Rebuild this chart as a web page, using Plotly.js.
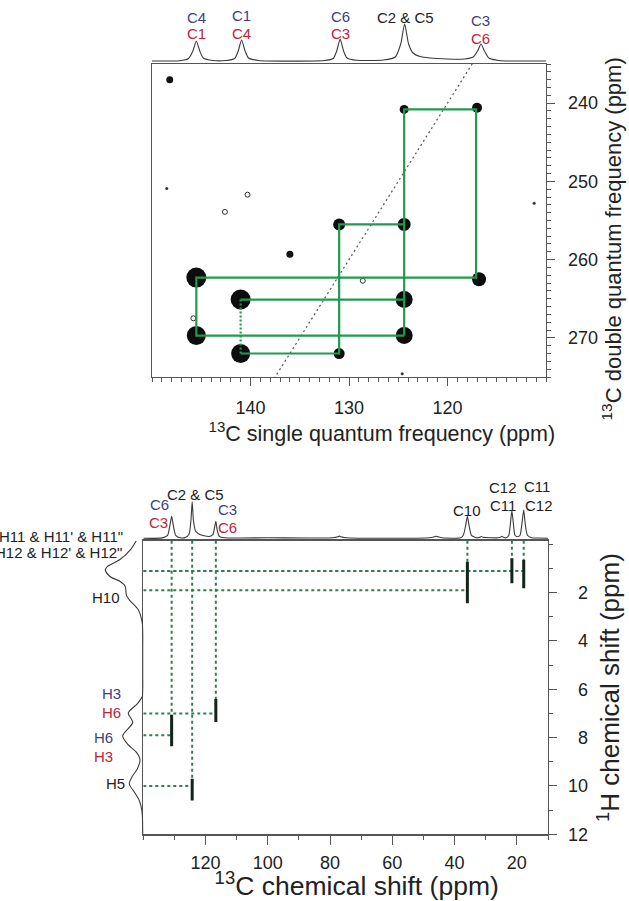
<!DOCTYPE html>
<html><head><meta charset="utf-8">
<script src="https://cdn.plot.ly/plotly-3.0.1.min.js"></script>
<style>html,body{margin:0;padding:0;background:#fff}#chart{width:629px;height:901px}</style>
</head><body><div id="chart"></div>
<script>
// ================= DATA =================
// --- Top panel: 13C double-quantum / single-quantum correlation ---
const sqRange = [150, 110];
const dqRange = [275, 235];
const sqTicks = [140, 130, 120];
const dqTicks = [240, 250, 260, 270];

// 1D 13C projection above the top panel (ppm, relative height)
const projPpm = [150, 147.2, 146.3, 145.85, 145.5, 145.15, 144.8, 143.8,
                 142.5, 141.6, 141.25, 140.9, 140.55, 140.2, 139.2,
                 132.5, 131.6, 131.25, 130.9, 130.55, 130.2, 129.2,
                 126.5, 125.3, 124.75, 124.35, 123.95, 123.5, 122.8, 121.8, 120,
                 118.3, 117.4, 116.95, 116.6, 116.25, 115.8, 114.8, 110];
const projInt = [0, 0.3, 2.5, 10, 20, 10, 3, 0.5,
                 0.5, 2.5, 10, 21, 10, 3, 0.5,
                 0.5, 2.5, 10, 22, 10, 3, 0.7,
                 1, 4, 17, 37, 17, 8, 4.5, 3, 2,
                 2, 4, 10, 17, 10, 3, 0.5, 0];

// DQ/SQ cross peaks
const peakSQ = [145.5, 145.5, 141.0, 141.0, 131.0, 124.4, 124.4, 124.4, 124.4, 117.0, 116.8, 131.0];
const peakDQ = [262.3, 269.7, 265.1, 272.0, 255.5, 255.5, 265.1, 269.7, 240.8, 240.6, 262.5, 272.0];
// weak signals
const weakSQ = [148.2, 136.0];
const weakDQ = [237.0, 259.3];
const ringSQ = [140.3, 142.6, 128.6, 145.8];
const ringDQ = [251.7, 253.9, 262.7, 267.5];
const dotSQ = [148.5, 111.2, 124.6];
const dotDQ = [250.9, 252.8, 274.6];
// connectivity walk (solid) and dotted link
const walkSQ = [124.4, 124.4, 117.1, 117.1, 145.5, 145.5, 124.4, null, 141.0, 124.4, null, 141.0, 131.0, 131.0, 124.4];
const walkDQ = [269.7, 240.8, 240.8, 262.3, 262.3, 269.7, 269.7, null, 265.1, 265.1, null, 272.0, 272.0, 255.5, 255.5];
const linkSQ = [141.0, 141.0];
const linkDQ = [265.1, 272.0];
// diagonal DQ = 2 x SQ
const diagSQ = [137.6, 117.4];

// --- Bottom panel: 1H-13C correlation ---
const cRange = [140, 10];
const hRange = [12, -0.15];
const cTicks = [120, 100, 80, 60, 40, 20];
const hTicks = [2, 4, 6, 8, 10, 12];
const hTickText = ['\u20072', '\u20074', '\u20076', '\u20078', '10', '12'];

// 1D 13C spectrum above the bottom panel
const c13Ppm = [140, 133.9, 132.2, 131.5, 130.9, 130.3, 129.6, 128,
                126.5, 125.3, 124.7, 124.3, 123.9, 123.2, 122, 120.5, 118.8,
                117.6, 117.1, 116.7, 116.3, 115.6, 114,
                100, 79, 77.5, 77, 76.5, 75,
                48, 46.5, 45.9, 45.3, 44,
                38, 37.2, 36.5, 35.9, 35.3, 34.6, 33,
                31.9, 31.4, 30.9, 26, 25.3, 24.8, 24.3, 23.4,
                22.6, 22.1, 21.6, 21.1, 20.6, 19.8,
                19.0, 18.4, 17.8, 17.3, 16.6, 15.3, 13, 10];
const c13Int = [0, 0.4, 3, 12, 22, 12, 3, 0.5,
                0.8, 4, 18, 36.6, 18, 7, 4, 2.5, 1.8,
                4, 11, 17, 9, 2, 0.5,
                0.5, 0.5, 1.5, 2.2, 1.5, 0.5,
                0.5, 1.5, 2, 1.5, 0.5,
                0.5, 3, 12, 22, 12, 3, 0.5,
                1, 1.8, 1, 0.5, 1, 2, 1, 0.5,
                3, 14, 27.6, 14, 3, 1.5,
                3, 14, 28.3, 14, 3, 0.5, 0.3, 0];

// 1D 1H spectrum at the left of the bottom panel
const h1Ppm = [-0.15, 0.23, 0.62, 0.92, 1.06, 1.34, 1.54, 1.75, 2.09, 2.30, 2.71, 3.13, 3.66,
               6.0, 6.3, 6.6, 6.98, 7.37, 7.93, 8.3, 8.6, 8.91, 9.3, 9.6, 9.92, 10.25, 10.6, 11.0, 11.5, 12.0];
const h1Int = [7, 13, 23, 36, 38, 33, 23, 18, 17, 14, 5, 1.6, 0,
               0, 1, 6, 15, 10.6, 20.6, 15, 7, 3.3, 6, 11, 14, 9, 4, 1.5, 0.5, 0];

// HETCOR cross peaks: 13C shift, 1H shift, and 1H extent of each streak
const hetC    = [130.9, 124.3, 116.7, 35.9, 21.6, 17.8];
const hetH    = [7.9, 10.0, 7.0, 1.9, 1.1, 1.1];
const hetHtop = [7.05, 9.7, 6.4, 0.72, 0.58, 0.65];
const hetHbot = [8.36, 10.6, 7.35, 2.44, 1.61, 1.82];

// ================= STYLE =================
const FONT = 'Arial, "Liberation Sans", Helvetica, sans-serif';
const NAVY = '#3d3f80', RED = '#b7283b', INK = '#222222', AXC = '#555555';
const GREEN = '#22994f', DGREEN = '#2d7f52';
const peakSizes = [20, 19, 20, 19, 12, 13, 17, 17, 9, 10, 14, 11];
const W = 629, H = 901;
const fx = v => v / W;
const fy = v => 1 - v / H;
// non-breaking padding, fenced by a zero-width space so it is not trimmed
const padL = n => '\u200b' + '\u00a0'.repeat(n);
const padR = n => '\u00a0'.repeat(n) + '\u200b';

// ================= TRACES =================
const traces = [];
traces.push({x: projPpm, y: projInt, xaxis: 'x', yaxis: 'y2', mode: 'lines',
  line: {color: '#3a3a3a', width: 1.1, shape: 'spline', smoothing: 0.6}, hoverinfo: 'skip'});
traces.push({x: diagSQ, y: diagSQ.map(v => 2 * v), xaxis: 'x', yaxis: 'y', mode: 'lines',
  line: {color: '#555', width: 1.2, dash: '2px,3px'}, hoverinfo: 'skip'});
traces.push({x: peakSQ, y: peakDQ, xaxis: 'x', yaxis: 'y', mode: 'markers',
  marker: {color: '#0d0d0d', opacity: 1, size: peakSizes, line: {width: 0}}});
traces.push({x: weakSQ, y: weakDQ, xaxis: 'x', yaxis: 'y', mode: 'markers',
  marker: {color: '#111', opacity: 1, size: 7, line: {width: 0}}});
traces.push({x: ringSQ, y: ringDQ, xaxis: 'x', yaxis: 'y', mode: 'markers',
  marker: {color: '#fff', opacity: 1, size: 5, line: {color: '#333', width: 1}}});
traces.push({x: dotSQ, y: dotDQ, xaxis: 'x', yaxis: 'y', mode: 'markers',
  marker: {color: '#333', opacity: 1, size: 3}});
traces.push({x: walkSQ, y: walkDQ, xaxis: 'x', yaxis: 'y', mode: 'lines', connectgaps: false,
  line: {color: GREEN, width: 2.2}});
traces.push({x: linkSQ, y: linkDQ, xaxis: 'x', yaxis: 'y', mode: 'lines',
  line: {color: GREEN, width: 2.2, dash: '2px,2px'}});

// bottom
traces.push({x: c13Ppm, y: c13Int, xaxis: 'x3', yaxis: 'y4', mode: 'lines',
  line: {color: '#3a3a3a', width: 1.1, shape: 'spline', smoothing: 0.6}});
traces.push({x: h1Int, y: h1Ppm, xaxis: 'x4', yaxis: 'y3', mode: 'lines',
  line: {color: '#3a3a3a', width: 1.1, shape: 'spline', smoothing: 0.8}});
// dotted guide lines from the spectra to each cross peak
const gx = [], gy = [];
hetC.forEach((c, i) => {
  gx.push(cRange[0], c, null, c, c, null);
  gy.push(hetH[i], hetH[i], null, hRange[1], hetH[i], null);
});
traces.push({x: gx, y: gy, xaxis: 'x3', yaxis: 'y3', mode: 'lines', connectgaps: false,
  line: {color: DGREEN, width: 2, dash: '3px,3px'}});
const sx = [], sy = [];
hetC.forEach((c, i) => { sx.push(c, c, null); sy.push(hetHtop[i], hetHbot[i], null); });
traces.push({x: sx, y: sy, xaxis: 'x3', yaxis: 'y3', mode: 'lines', connectgaps: false,
  line: {color: '#12251a', width: 3}});

// ================= LAYOUT =================
const tickFont = {family: FONT, size: 18, color: INK};
function lab(text, x, y, color, xref, yref, extra) {
  return Object.assign({text: text, x: x, y: y, xref: xref, yref: yref, showarrow: false,
    font: {family: FONT, size: 15, color: color}}, extra || {});
}
const annotations = [
  // top projection labels
  lab('C4', 145.5, 44, NAVY, 'x', 'y2'), lab('C1', 145.5, 28, RED, 'x', 'y2'),
  lab('C1', 140.9, 46, NAVY, 'x', 'y2'), lab('C4', 140.9, 28, RED, 'x', 'y2'),
  lab('C6', 130.9, 45, NAVY, 'x', 'y2'), lab('C3', 130.9, 28, RED, 'x', 'y2'),
  lab('C2 &amp; C5', 124.3, 44, INK, 'x', 'y2'),
  lab('C3', 116.6, 41, NAVY, 'x', 'y2'), lab('C6', 116.6, 23, RED, 'x', 'y2'),
  // bottom 13C labels
  lab('C6', 134.9, 34.3, NAVY, 'x3', 'y4'), lab('C3', 135.2, 15.6, RED, 'x3', 'y4'),
  lab('C2 &amp; C5', 123.1, 44.3, INK, 'x3', 'y4'),
  lab('C3', 112.8, 29, NAVY, 'x3', 'y4'), lab('C6', 112.8, 10.6, RED, 'x3', 'y4'),
  lab('C10', 36.0, 27.6, INK, 'x3', 'y4'),
  lab('C12', 24.3, 51, INK, 'x3', 'y4'), lab('C11', 24.5, 33.3, INK, 'x3', 'y4'),
  lab('C11', 13.4, 51.6, INK, 'x3', 'y4'), lab('C12', 12.9, 33.3, INK, 'x3', 'y4'),
  // 1H labels
  lab('H11 &amp; H11\' &amp; H11"', fx(125), fy(536.7), INK, 'paper', 'paper', {xanchor: 'right'}),
  lab('H12 &amp; H12\' &amp; H12"', fx(124), fy(552.7), INK, 'paper', 'paper', {xanchor: 'right'}),
  lab('H10', 21.3, 2.18, INK, 'x4', 'y3', {xanchor: 'right'}),
  lab('H3', 20.3, 6.18, NAVY, 'x4', 'y3', {xanchor: 'right'}),
  lab('H6', 20.3, 6.94, RED, 'x4', 'y3', {xanchor: 'right'}),
  lab('H6', 28.3, 8.0, NAVY, 'x4', 'y3', {xanchor: 'right'}),
  lab('H3', 28.3, 8.78, RED, 'x4', 'y3', {xanchor: 'right'}),
  lab('H5', 16.3, 9.9, INK, 'x4', 'y3', {xanchor: 'right'})
];

const frame = {showline: true, mirror: true, linecolor: AXC, linewidth: 1.3, showgrid: false, zeroline: false,
  ticks: 'outside', ticklen: 8, tickwidth: 1, tickcolor: AXC, tickfont: tickFont};

const layout = {
  width: W, height: H, margin: {l: 0, r: 0, t: 0, b: 0},
  paper_bgcolor: '#fff', plot_bgcolor: 'rgba(0,0,0,0)', showlegend: false,
  font: {family: FONT, size: 15, color: INK},
  xaxis: Object.assign({}, frame, {domain: [fx(152), fx(546)], range: sqRange, anchor: 'y',
    tickmode: 'array', tickvals: sqTicks, ticklabelstandoff: 6,
    minor: {ticks: 'outside', ticklen: 4, dtick: 1, tick0: 0, tickcolor: AXC, showgrid: false},
    title: {text: padL(11) + '<sup>13</sup>C single quantum frequency (ppm)', font: {family: FONT, size: 21.5, color: INK}, standoff: 6}}),
  yaxis: Object.assign({}, frame, {domain: [fy(377), fy(64)], range: dqRange, anchor: 'x', side: 'right',
    tickmode: 'array', tickvals: dqTicks, ticklabelstandoff: 9,
    minor: {ticks: 'outside', ticklen: 4, dtick: 1, tick0: 0, tickcolor: AXC, showgrid: false},
    title: {text: '<sup>13</sup>C double quantum frequency (ppm)' + padR(6), font: {family: FONT, size: 22, color: INK}, standoff: 8}}),
  yaxis2: {domain: [fy(62), fy(10)], range: [-1, 51], anchor: 'x', visible: false},
  xaxis3: Object.assign({}, frame, {domain: [fx(143.3), fx(548)], range: cRange, anchor: 'y3',
    tickmode: 'array', tickvals: cTicks, ticklen: 9, ticklabelstandoff: 3,
    minor: {ticks: 'outside', ticklen: 4, dtick: 10, tick0: 0, tickcolor: AXC, showgrid: false},
    title: {text: padL(3) + '<sup>13</sup>C chemical shift (ppm)', font: {family: FONT, size: 26.5, color: INK}, standoff: 8}}),
  yaxis3: Object.assign({}, frame, {domain: [fy(834.3), fy(540.7)], range: hRange, anchor: 'x3', side: 'right',
    tickmode: 'array', tickvals: hTicks, ticktext: hTickText, ticklabelstandoff: 7,
    minor: {ticks: 'outside', ticklen: 4, dtick: 1, tick0: 0, tickcolor: AXC, showgrid: false},
    title: {text: '<sup>1</sup>H chemical shift (ppm)', font: {family: FONT, size: 26, color: INK}, standoff: 14}}),
  yaxis4: {domain: [fy(540), fy(480)], range: [-1.7, 58.3], anchor: 'x3', visible: false},
  xaxis4: {domain: [0, fx(143.3)], range: [143.3, 0], anchor: 'y3', visible: false},
  annotations: annotations
};

Plotly.newPlot('chart', traces, layout, {displayModeBar: false, staticPlot: true});
</script></body></html>
